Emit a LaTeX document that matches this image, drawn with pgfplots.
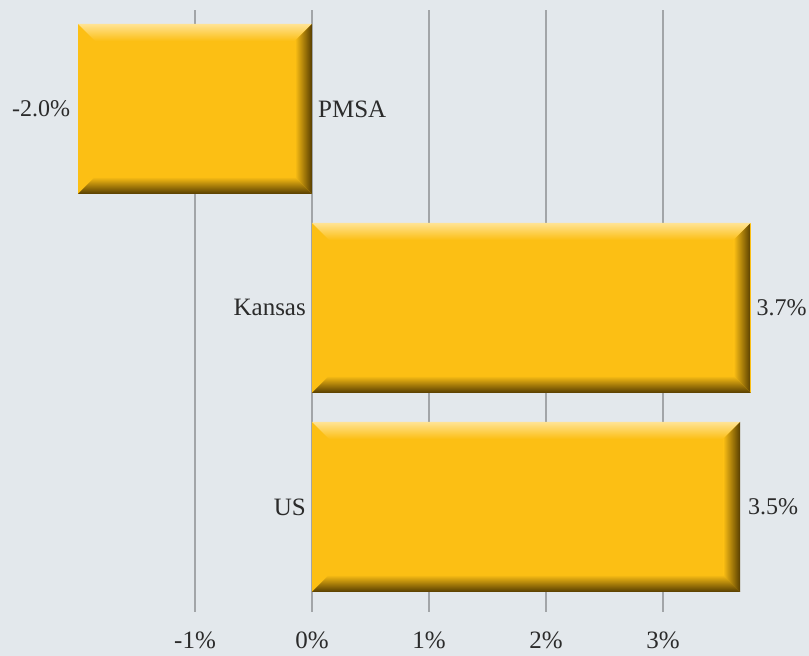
\documentclass[border=0pt]{standalone}
\usepackage{fontspec}
\setmainfont{Liberation Serif}
\usepackage{pgfplots}
\pgfplotsset{compat=1.18}
\definecolor{bgc}{HTML}{E3E8EC}
\definecolor{gold}{HTML}{FCBF14}
\definecolor{goldlight}{HTML}{FFE394}
\definecolor{golddark}{HTML}{563D00}
\definecolor{gridc}{HTML}{A2A5A8}
\definecolor{txt}{HTML}{2B2B2B}

\pgfplotsset{
  barstyle/.style={xbar, bar width=170pt, bar shift=0pt, fill=gold, draw=none,
    point meta=explicit symbolic, nodes near coords,
    nodes near coords style={font=\fontsize{24}{28}\selectfont, text=txt, inner sep=0pt, outer sep=0pt, anchor=#1}},
  strip/.style={draw=none, mark=none, sharp plot, forget plot},
  topstrip/.style={strip, top color=goldlight, bottom color=gold},
  rightstrip/.style={strip, left color=gold, right color=golddark},
  botstrip/.style={strip, top color=gold, bottom color=golddark},
}

\begin{document}
\begin{tikzpicture}
\fill[bgc] (0,0) rectangle (809pt,656pt);
\useasboundingbox (0,0) rectangle (809pt,656pt);
\begin{axis}[
    at={(0pt,44pt)}, anchor=south west,
    width=809pt, height=602pt, scale only axis,
    xmin=-2.667, xmax=4.248,
    ymin=-0.528, ymax=2.497,
    axis line style={draw=none},
    major tick length=0pt,
    ytick=\empty,
    xtick={-1,0,1,2,3},
    xticklabels={-1\%,0\%,1\%,2\%,3\%},
    xticklabel style={yshift=-16pt, text=txt},
    xmajorgrids,
    grid style={gridc, line width=2.5pt},
    font=\fontsize{25}{29}\selectfont,
    clip=false,
]
% bars
\addplot[barstyle=east, nodes near coords style={xshift=-8pt}] coordinates {(-2.0,2) [-2.0\%]};
\addplot[barstyle=west, nodes near coords style={xshift=6pt}] coordinates {(3.75,1) [3.7\%]};
\addplot[barstyle=west, nodes near coords style={xshift=8pt}] coordinates {(3.66,0) [3.5\%]};
% bevel edges: PMSA
\addplot[topstrip] coordinates {(-2.0,2.427) (0,2.427) (-0.1453,2.3416) (-1.8547,2.3416)} -- cycle;
\addplot[rightstrip] coordinates {(0,2.427) (0,1.573) (-0.1453,1.6584) (-0.1453,2.3416)} -- cycle;
\addplot[botstrip] coordinates {(-2.0,1.573) (0,1.573) (-0.1453,1.6584) (-1.8547,1.6584)} -- cycle;
% Kansas
\addplot[topstrip] coordinates {(0,1.427) (3.75,1.427) (3.6047,1.3416) (0.1453,1.3416)} -- cycle;
\addplot[rightstrip] coordinates {(3.75,1.427) (3.75,0.573) (3.6047,0.6584) (3.6047,1.3416)} -- cycle;
\addplot[botstrip] coordinates {(0,0.573) (3.75,0.573) (3.6047,0.6584) (0.1453,0.6584)} -- cycle;
% US
\addplot[topstrip] coordinates {(0,0.427) (3.66,0.427) (3.5147,0.3416) (0.1453,0.3416)} -- cycle;
\addplot[rightstrip] coordinates {(3.66,0.427) (3.66,-0.427) (3.5147,-0.3416) (3.5147,0.3416)} -- cycle;
\addplot[botstrip] coordinates {(0,-0.427) (3.66,-0.427) (3.5147,-0.3416) (0.1453,-0.3416)} -- cycle;
\node[anchor=west, text=txt, inner sep=0pt] at ([xshift=6pt]axis cs:0,2) {PMSA};
\node[anchor=east, text=txt, inner sep=0pt] at ([xshift=-6pt]axis cs:0,1) {Kansas};
\node[anchor=east, text=txt, inner sep=0pt] at ([xshift=-6pt]axis cs:0,0) {US};
\end{axis}
\end{tikzpicture}
\end{document}
